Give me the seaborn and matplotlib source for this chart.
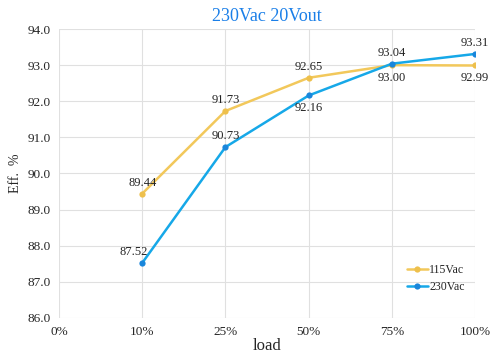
import matplotlib
matplotlib.use("Agg")
import matplotlib.pyplot as plt
import seaborn as sns
import pandas as pd

categories = ["0%", "10%", "25%", "50%", "75%", "100%"]
load_points = ["10%", "25%", "50%", "75%", "100%"]
eff_115 = [89.44, 91.73, 92.65, 93.00, 92.99]
eff_230 = [87.52, 90.73, 92.16, 93.04, 93.31]
yticks = [86.0, 87.0, 88.0, 89.0, 90.0, 91.0, 92.0, 93.0, 94.0]

sns.set_style("white")
plt.rcParams['font.family'] = ['Liberation Serif', 'DejaVu Serif']

pos = {c: i for i, c in enumerate(categories)}
df = pd.DataFrame({
    "x": [pos[c] for c in load_points] * 2,
    "eff": eff_115 + eff_230,
    "series": ["115Vac"] * len(eff_115) + ["230Vac"] * len(eff_230),
})

fig = plt.figure(figsize=(4.95, 3.54), dpi=100)
ax = fig.add_axes([0.119, 0.102, 0.841, 0.816])

palette = {"115Vac": "#f2c85b", "230Vac": "#16a8e8"}
sns.lineplot(data=df, x="x", y="eff", hue="series", palette=palette, ax=ax,
             linewidth=1.8, marker="o", markersize=4.5, markeredgewidth=0)
for ln in ax.get_lines():
    if ln.get_color() == "#16a8e8":
        ln.set_markerfacecolor("#1a86db")
    elif ln.get_color() == "#f2c85b":
        ln.set_markerfacecolor("#eec04c")

ax.set_xlim(0, len(categories) - 1)
ax.set_ylim(86.0, 94.0)
ax.set_xticks(range(len(categories)))
ax.set_xticklabels(categories, fontsize=9.5)
ax.set_yticks(yticks)
ax.set_yticklabels([f"{v:.1f}" for v in yticks], fontsize=9.5)
ax.tick_params(length=0, pad=6)
ax.grid(True, color="#e0e0e0", linewidth=0.8)
for s in ax.spines.values():
    s.set_visible(False)

ax.set_xlabel("load", fontsize=12, labelpad=0)
ax.set_ylabel("Eff.  %", fontsize=10, labelpad=4)
ax.set_title("230Vac 20Vout", color="#1a7fe8", fontsize=13, pad=6)

# data labels
off115 = [(0, 8), (0, 8), (0, 8), (0, -9), (0, -9)]
off230 = [(-6, 8), (0, 8), (0, -9), (0, 8), (0, 8)]
for c, v, (dx, dy) in zip(load_points, eff_115, off115):
    ax.annotate(f"{v:.2f}", (pos[c], v), xytext=(dx, dy), textcoords="offset points",
                ha="center", va="center", fontsize=9, color="#222222")
for c, v, (dx, dy) in zip(load_points, eff_230, off230):
    ax.annotate(f"{v:.2f}", (pos[c], v), xytext=(dx, dy), textcoords="offset points",
                ha="center", va="center", fontsize=9, color="#222222")

ax.legend(loc="lower right", bbox_to_anchor=(1.0, 0.05), frameon=False,
          fontsize=8.5, handlelength=1.8, handletextpad=0.1, labelspacing=0.4)

fig.savefig("out.png", dpi=100)
